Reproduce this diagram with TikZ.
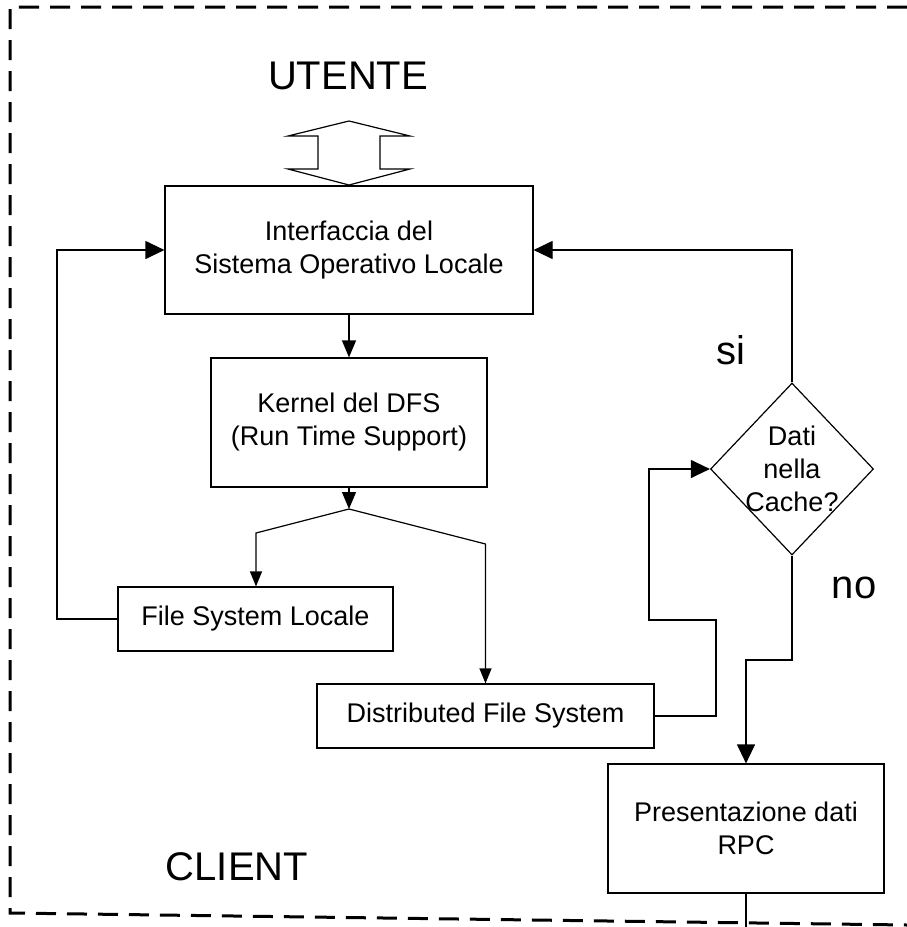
\documentclass[tikz,border=0pt]{standalone}
\usepackage{fontspec}
\setmainfont{Liberation Sans}
\usetikzlibrary{arrows.meta,shapes.geometric}

\tikzset{
  box/.style={draw, line width=1.2pt, rectangle, inner sep=0pt, align=center,
    font=\fontsize{27}{33}\selectfont},
  bigtxt/.style={inner sep=0pt, font=\fontsize{40}{46}\selectfont},
  wire/.style={line width=1.2pt},
  bighead/.style={wire, -{Triangle[length=19pt,width=18pt]}},
  midhead/.style={wire, -{Triangle[length=17pt,width=14pt]}},
  smallhead/.style={wire, -{Triangle[length=15pt,width=12pt]}},
  border/.style={line width=3pt, dash pattern=on 20pt off 11pt}
}

\begin{document}
\begin{tikzpicture}[x=1pt,y=-1pt]
  \useasboundingbox (0,0) rectangle (907,927);

  % client frame
  \draw[border] (907,7) -- (10,7) -- (10,913) -- (907,925);

  % titles
  \node[bigtxt] (utente) at (348,76) {UTENTE};
  \node[bigtxt] (client) at (237,867) {CLIENT};
  \node[bigtxt] (si) at (731,350) {si};
  \node[bigtxt] (no) at (854,588) {no};

  % blocks
  \node[box, minimum width=368pt, minimum height=128pt] (iface) at (349,250)
    {Interfaccia del\\Sistema Operativo Locale};
  \node[box, minimum width=276pt, minimum height=129pt] (kernel) at (349,422.5)
    {Kernel del DFS\\(Run Time Support)};
  \node[box, minimum width=275pt, minimum height=64pt] (fsl) at (255.5,619)
    {File System Locale};
  \node[box, minimum width=337pt, minimum height=64pt] (dfs) at (485.5,716)
    {Distributed File System};
  \node[box, minimum width=276pt, minimum height=129pt] (rpc) at (746,828.5)
    {Presentazione dati\\RPC};
  \node[draw, line width=1.2pt, diamond, inner sep=0pt,
        minimum width=163pt, minimum height=172pt,
        label={[align=center, font=\fontsize{27}{33}\selectfont]center:Dati\\nella\\Cache?}]
        (cache) at (792,469) {};

  % two-way user arrow
  \draw[wire, fill=white] (288,136) -- (349,121) -- (410,136) -- (380,136)
    -- (380,169) -- (410,169) -- (349,185) -- (288,169) -- (318,169)
    -- (318,136) -- cycle;

  % routing points
  \coordinate (split) at (349,509);
  \coordinate (lbend) at (256,533);
  \coordinate (rbend) at (485.5,544);
  \coordinate (out) at (746,927);

  % connectors
  \draw[midhead] (iface.south) -- (kernel.north);
  \draw[midhead] (kernel.south) -- (split);
  \draw[smallhead] (split) -- (lbend) -- (lbend |- fsl.north);
  \draw[smallhead] (split) -- (rbend) -- (dfs.north);
  \draw[bighead] (fsl.west) -- (57,619) |- (iface.west);
  \draw[bighead] (dfs.east) -- (716,716) -- (716,620) -- (649,620) |- (cache.west);
  \draw[bighead] (cache.north) |- (iface.east);
  \draw[bighead] (cache.south) -- (792,660) -| (rpc.north);
  \draw[wire] (rpc.south) -- (out);
\end{tikzpicture}
\end{document}
